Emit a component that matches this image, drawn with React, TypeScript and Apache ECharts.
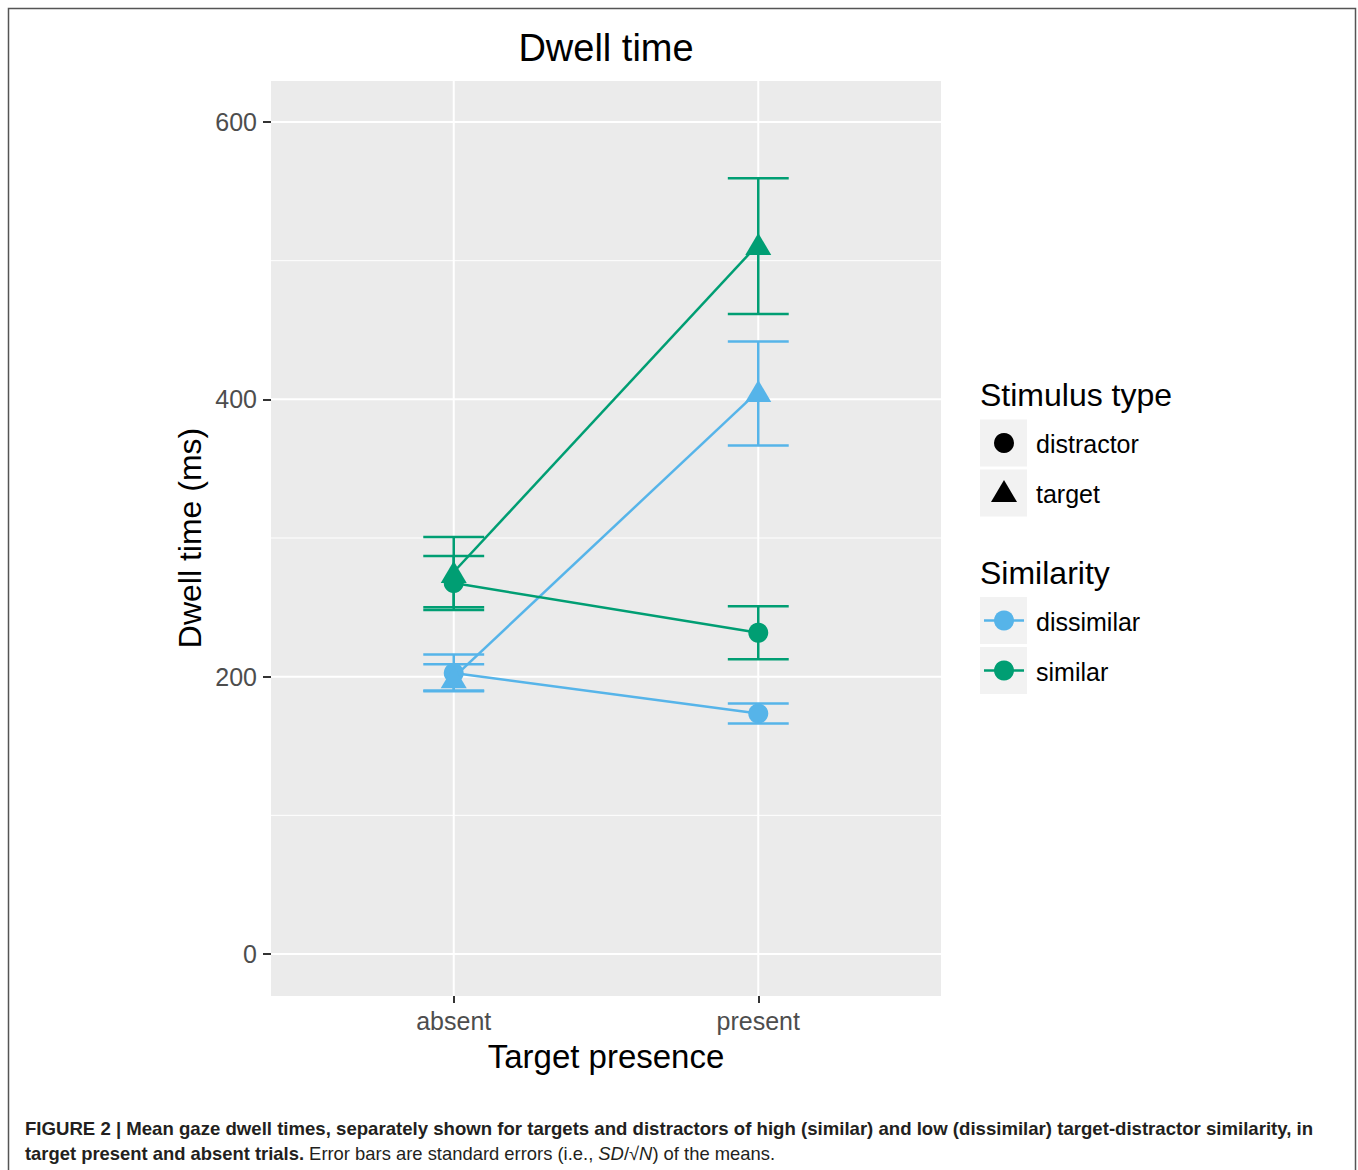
import React, { useEffect, useRef } from "react";
import * as echarts from "echarts";

const categories = ["absent", "present"];
const xTicks = [1, 2];
const yMajor = [0, 200, 400, 600];
const yMinor = [100, 300, 500];

const similarTargetMean = [275.5, 512];
const similarTargetLow = [250, 461.5];
const similarTargetHigh = [300.7, 559.5];

const similarDistractorMean = [267.5, 231.7];
const similarDistractorLow = [248, 212.6];
const similarDistractorHigh = [287, 250.8];

const dissimilarTargetMean = [199.5, 406];
const dissimilarTargetLow = [190, 366.8];
const dissimilarTargetHigh = [209, 441.8];

const dissimilarDistractorMean = [202.7, 173.4];
const dissimilarDistractorLow = [189.5, 166.2];
const dissimilarDistractorHigh = [216, 180.6];

const BLUE = "#56B4E9";
const GREEN = "#009E73";
const FONT = "Liberation Sans, Arial, sans-serif";

type Grp = {
  name: string;
  mean: number[];
  low: number[];
  high: number[];
  color: string;
  shape: "circle" | "triangle";
};

const groups: Grp[] = [
  { name: "dissimilar distractor", mean: dissimilarDistractorMean, low: dissimilarDistractorLow, high: dissimilarDistractorHigh, color: BLUE, shape: "circle" },
  { name: "dissimilar target", mean: dissimilarTargetMean, low: dissimilarTargetLow, high: dissimilarTargetHigh, color: BLUE, shape: "triangle" },
  { name: "similar distractor", mean: similarDistractorMean, low: similarDistractorLow, high: similarDistractorHigh, color: GREEN, shape: "circle" },
  { name: "similar target", mean: similarTargetMean, low: similarTargetLow, high: similarTargetHigh, color: GREEN, shape: "triangle" },
];

export default function App() {
  const ref = useRef<HTMLDivElement>(null);
  useEffect(() => {
    document.body.style.margin = "0";
    const chart = echarts.init(ref.current!, null, { renderer: "svg" });

    const gridData: number[][] = [
      ...yMinor.map((v) => [1.5, v, 0, 1]),
      ...yMajor.map((v) => [1.5, v, 0, 2]),
      ...xTicks.map((v) => [v, 300, 1, 2]),
    ];

    const gridSeries = {
      type: "custom",
      name: "grid",
      silent: true,
      z: 1,
      data: gridData,
      encode: { x: 0, y: 1 },
      renderItem: (params: any, api: any) => {
        const cs = params.coordSys;
        const kind = api.value(2);
        const w = api.value(3);
        if (kind === 0) {
          const y = api.coord([1, api.value(1)])[1];
          return {
            type: "line",
            shape: { x1: cs.x, y1: y, x2: cs.x + cs.width, y2: y },
            style: { stroke: "#ffffff", lineWidth: w },
          };
        }
        const x = api.coord([api.value(0), 0])[0];
        return {
          type: "line",
          shape: { x1: x, y1: cs.y, x2: x, y2: cs.y + cs.height },
          style: { stroke: "#ffffff", lineWidth: w },
        };
      },
    };

    const errSeries = groups.map((g) => ({
      type: "custom",
      name: g.name + " error",
      silent: true,
      z: 2,
      data: categories.map((_, i) => [i + 1, g.low[i], g.high[i]]),
      encode: { x: 0, y: [1, 2] },
      renderItem: (params: any, api: any) => {
        const x = api.value(0);
        const lo = api.coord([x, api.value(1)]);
        const hi = api.coord([x, api.value(2)]);
        const left = api.coord([x - 0.1, 0])[0];
        const right = api.coord([x + 0.1, 0])[0];
        const st = { stroke: g.color, lineWidth: 2.5 };
        return {
          type: "group",
          children: [
            { type: "line", shape: { x1: lo[0], y1: lo[1], x2: hi[0], y2: hi[1] }, style: st },
            { type: "line", shape: { x1: left, y1: lo[1], x2: right, y2: lo[1] }, style: st },
            { type: "line", shape: { x1: left, y1: hi[1], x2: right, y2: hi[1] }, style: st },
          ],
        };
      },
    }));

    const lineSeries = groups.map((g) => ({
      type: "line",
      name: g.name,
      z: 3,
      data: categories.map((_, i) => [i + 1, g.mean[i]]),
      symbol: g.shape,
      symbolSize: g.shape === "circle" ? 20 : [26, 22],
      showSymbol: true,
      lineStyle: { color: g.color, width: 2.5 },
      itemStyle: { color: g.color, opacity: 1 },
      emphasis: { disabled: true },
    }));

    const legendLabel = (x: number, y: number, text: string, size: number) => ({
      type: "text",
      x,
      y,
      style: { text, fontSize: size, fontFamily: FONT, fill: "#000", align: "left", verticalAlign: "middle" },
    });
    const keyBox = (y: number) => ({
      type: "rect",
      shape: { x: 980, y, width: 47, height: 47 },
      style: { fill: "#F2F2F2" },
    });

    chart.setOption({
      animation: false,
      backgroundColor: "#ffffff",
      grid: {
        left: 271,
        top: 81,
        width: 670,
        height: 915,
        show: true,
        backgroundColor: "#EBEBEB",
        borderWidth: 0,
        containLabel: false,
      },
      xAxis: {
        type: "value",
        min: 0.4,
        max: 2.6,
        axisLine: { show: false, onZero: false },
        axisTick: { show: true, customValues: xTicks, length: 7, lineStyle: { color: "#333333", width: 2 } },
        axisLabel: {
          customValues: xTicks,
          formatter: (v: number) => categories[Math.round(v) - 1] ?? "",
          fontSize: 25,
          fontFamily: FONT,
          color: "#4D4D4D",
          margin: 12,
        },
        splitLine: { show: false },
      },
      yAxis: {
        type: "value",
        min: -30.3,
        max: 629.6,
        axisLine: { show: false, onZero: false },
        axisTick: { show: true, customValues: yMajor, length: 8, lineStyle: { color: "#333333", width: 2 } },
        axisLabel: {
          customValues: yMajor,
          fontSize: 25,
          fontFamily: FONT,
          color: "#4D4D4D",
          margin: 14,
        },
        splitLine: { show: false },
      },
      series: [gridSeries, ...errSeries, ...lineSeries],
      graphic: [
        {
          type: "rect",
          shape: { x: 8.5, y: 8.5, width: 1347, height: 1200 },
          style: { fill: "none", stroke: "#555555", lineWidth: 1.5 },
          silent: true,
        },
        {
          type: "text",
          x: 606,
          y: 48,
          style: { text: "Dwell time", fontSize: 38, fontFamily: FONT, fill: "#000", align: "center", verticalAlign: "middle" },
        },
        {
          type: "text",
          x: 606,
          y: 1056,
          style: { text: "Target presence", fontSize: 33, fontFamily: FONT, fill: "#000", align: "center", verticalAlign: "middle" },
        },
        {
          type: "text",
          x: 190,
          y: 538,
          rotation: Math.PI / 2,
          style: { text: "Dwell time (ms)", fontSize: 32, fontFamily: FONT, fill: "#000", align: "center", verticalAlign: "middle" },
        },
        legendLabel(980, 395, "Stimulus type", 32),
        keyBox(419.5),
        keyBox(469.5),
        { type: "circle", shape: { cx: 1004, cy: 443, r: 10 }, style: { fill: "#000" } },
        { type: "polygon", shape: { points: [[1004, 480], [991, 502], [1017, 502]] }, style: { fill: "#000" } },
        legendLabel(1036, 444, "distractor", 25),
        legendLabel(1036, 494, "target", 25),
        legendLabel(980, 573, "Similarity", 32),
        keyBox(597),
        keyBox(647),
        { type: "line", shape: { x1: 984, y1: 620.5, x2: 1024, y2: 620.5 }, style: { stroke: BLUE, lineWidth: 2.5 } },
        { type: "circle", shape: { cx: 1004, cy: 620.5, r: 10 }, style: { fill: BLUE } },
        { type: "line", shape: { x1: 984, y1: 670.5, x2: 1024, y2: 670.5 }, style: { stroke: GREEN, lineWidth: 2.5 } },
        { type: "circle", shape: { cx: 1004, cy: 670.5, r: 10 }, style: { fill: GREEN } },
        legendLabel(1036, 622, "dissimilar", 25),
        legendLabel(1036, 672, "similar", 25),
        {
          type: "text",
          x: 25,
          y: 1128,
          style: {
            text:
              "FIGURE 2 | Mean gaze dwell times, separately shown for targets and distractors of high (similar) and low (dissimilar) target-distractor similarity, in",
            fontSize: 18.6,
            fontWeight: "bold",
            fontFamily: FONT,
            fill: "#231F20",
            align: "left",
            verticalAlign: "middle",
          },
        },
        {
          type: "text",
          x: 25,
          y: 1153,
          style: {
            text: "{b|target present and absent trials.} {n|Error bars are standard errors (i.e., }{i|SD}{n|/√}{i|N}{n|) of the means.}",
            fontSize: 18.4,
            fontFamily: FONT,
            fill: "#231F20",
            align: "left",
            verticalAlign: "middle",
            rich: {
              b: { fontSize: 18.4, fontWeight: "bold", fontFamily: FONT, fill: "#231F20" },
              n: { fontSize: 18.4, fontFamily: FONT, fill: "#231F20" },
              i: { fontSize: 18.4, fontStyle: "italic", fontFamily: FONT, fill: "#231F20" },
            },
          },
        },
      ],
    });
    return () => chart.dispose();
  }, []);
  return <div ref={ref} style={{ position: "absolute", left: 0, top: 0, width: 1358, height: 1170 }} />;
}
